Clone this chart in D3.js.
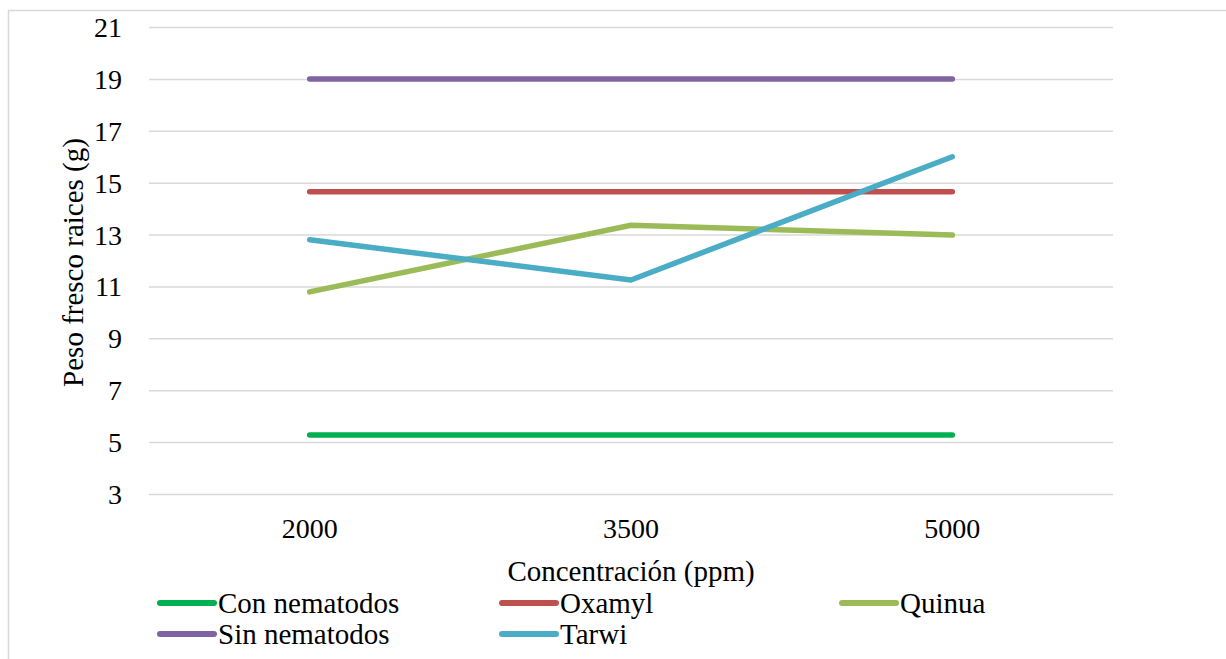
<!DOCTYPE html>
<html>
<head>
<meta charset="utf-8">
<script src="https://cdn.jsdelivr.net/npm/d3@7"></script>
<style>
  body { margin: 0; background: #fff; }
</style>
</head>
<body>
<div id="chart"></div>
<script>
// data
var concentrations = ["2000", "3500", "5000"];
var seriesNames = ["Con nematodos", "Oxamyl", "Quinua", "Sin nematodos", "Tarwi"];
var conNematodos = [5.27, 5.27, 5.27];
var oxamyl = [14.65, 14.65, 14.65];
var quinua = [10.79, 13.36, 12.98];
var sinNematodos = [19.0, 19.0, 19.0];
var tarwi = [12.8, 11.25, 16.0];
var yTicks = [3, 5, 7, 9, 11, 13, 15, 17, 19, 21];
var colors = ["#00B050", "#C0504D", "#9BBB59", "#8064A2", "#4BACC6"];

var series = [conNematodos, oxamyl, quinua, sinNematodos, tarwi].map(function(v, i) {
    return { name: seriesNames[i], values: v, color: colors[i] };
});

var W = 1226, H = 659;
var margin = { top: 27, right: 113, bottom: 165, left: 149 };
var width = W - margin.left - margin.right;
var height = H - margin.top - margin.bottom;

var svg = d3.select("#chart").append("svg")
    .attr("width", W)
    .attr("height", H)
    .style("font-family", "'Liberation Serif', 'Times New Roman', serif");

// outer chart border
svg.append("rect")
    .attr("x", 8.5).attr("y", 10.5)
    .attr("width", W + 10).attr("height", H + 10)
    .attr("fill", "none")
    .attr("stroke", "#d9d9d9")
    .attr("stroke-width", 1.5);

var g = svg.append("g")
    .attr("transform", "translate(" + margin.left + "," + margin.top + ")");

var x = d3.scaleBand()
    .domain(concentrations)
    .range([0, width]);

var y = d3.scaleLinear()
    .domain([3, 21])
    .range([height, 0]);

// gridlines + y tick labels
var yAxis = d3.axisLeft(y)
    .tickValues(yTicks)
    .tickSize(-width)
    .tickPadding(27)
    .tickFormat(d3.format("d"));

var yG = g.append("g").attr("class", "y axis").call(yAxis);
yG.attr("font-family", null);
yG.select(".domain").remove();
yG.selectAll(".tick line")
    .attr("stroke", "#d9d9d9")
    .attr("stroke-width", 1.5);
yG.selectAll(".tick text")
    .attr("font-size", 28)
    .attr("fill", "#000")
    .attr("dy", "0.34em");

// x tick labels
var xAxis = d3.axisBottom(x).tickSize(0).tickPadding(0);
var xG = g.append("g")
    .attr("class", "x axis")
    .attr("transform", "translate(0," + height + ")")
    .call(xAxis);
xG.attr("font-family", null);
xG.select(".domain").remove();
xG.selectAll(".tick text")
    .attr("font-size", 28)
    .attr("fill", "#000")
    .attr("dy", 0)
    .attr("y", 44);

// axis titles
g.append("text")
    .attr("text-anchor", "middle")
    .attr("x", width / 2)
    .attr("y", height + 87)
    .attr("font-size", 29)
    .text("Concentración (ppm)");

g.append("text")
    .attr("transform", "rotate(-90)")
    .attr("text-anchor", "middle")
    .attr("x", -(height / 2 + 2))
    .attr("y", -66)
    .attr("font-size", 29)
    .text("Peso fresco raices (g)");

// lines
var line = d3.line()
    .x(function(d, i) { return x(concentrations[i]) + x.bandwidth() / 2; })
    .y(function(d) { return y(d); });

g.selectAll(".series")
    .data(series)
  .enter().append("path")
    .attr("class", "series")
    .attr("fill", "none")
    .attr("stroke", function(d) { return d.color; })
    .attr("stroke-width", 5.5)
    .attr("stroke-linecap", "round")
    .attr("stroke-linejoin", "round")
    .attr("d", function(d) { return line(d.values); });

// legend
var legendCols = [160, 502, 842];
var legendRows = [603, 634];
var legend = svg.selectAll(".legend")
    .data(series)
  .enter().append("g")
    .attr("class", "legend")
    .attr("transform", function(d, i) {
        return "translate(" + legendCols[i % 3] + "," + legendRows[Math.floor(i / 3)] + ")";
    });

legend.append("line")
    .attr("x1", 0).attr("x2", 54)
    .attr("y1", 0).attr("y2", 0)
    .attr("stroke", function(d) { return d.color; })
    .attr("stroke-width", 6)
    .attr("stroke-linecap", "round");

legend.append("text")
    .attr("x", 58)
    .attr("y", 10)
    .attr("font-size", 29)
    .text(function(d) { return d.name; });
</script>
</body>
</html>
